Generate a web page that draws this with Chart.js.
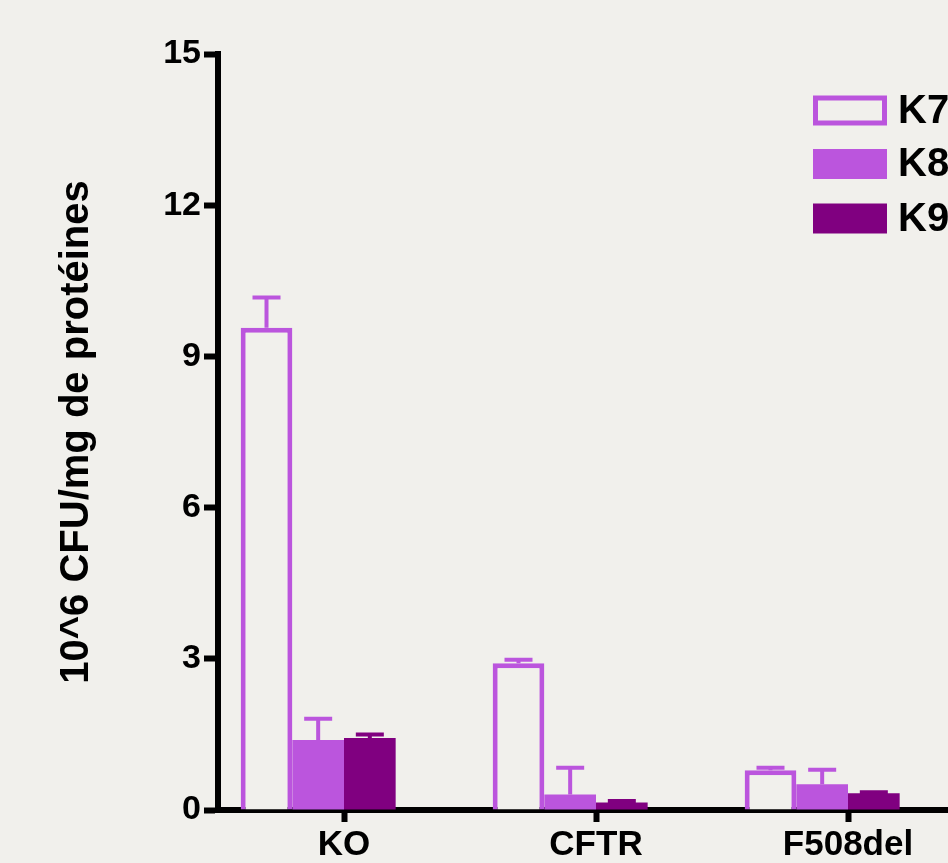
<!DOCTYPE html>
<html lang="fr">
<head>
<meta charset="utf-8">
<title>10^6 CFU/mg de protéines</title>
<script src="https://cdn.jsdelivr.net/npm/chart.js@4.4.1/dist/chart.umd.min.js"></script>
<style>
  html, body { margin: 0; padding: 0; background: #f1f0ec; overflow: hidden; }
  #wrap { width: 1000px; height: 863px; }
</style>
</head>
<body>
<div id="wrap"><canvas id="cfuChart" width="1000" height="863"></canvas></div>
<script>
// ── DATA ─────────────────────────────────────────
const categories   = ['KO', 'CFTR', 'F508del'];
const seriesLabels = ['K7', 'K8', 'K9'];

const k7Values = [9.57, 2.91, 0.79];
const k7Errors = [0.60, 0.07, 0.05];
const k8Values = [1.39, 0.31, 0.51];
const k8Errors = [0.42, 0.53, 0.29];
const k9Values = [1.43, 0.15, 0.33];
const k9Errors = [0.07, 0.03, 0.02];
// 4th (empty) column of the original layout — keeps groups offset left of the ticks
const emptyValues = [null, null, null];

const yTicks = [0, 3, 6, 9, 12, 15];

// ── STYLE ────────────────────────────────────────
const FONT   = "'Liberation Sans', Arial, Helvetica, sans-serif";
const BG     = '#f1f0ec';
const ORCHID = '#bb55dd';
const PLUM   = '#800080';

// ── ERROR BARS (upper only) ──────────────────────
const errorBars = {
  id: 'errorBars',
  afterDatasetsDraw(chart) {
    const { ctx } = chart;
    const yScale = chart.scales.y;
    chart.data.datasets.forEach((ds, i) => {
      if (!ds.errors) return;
      const meta = chart.getDatasetMeta(i);
      ctx.save();
      ctx.strokeStyle = ds.errorColor;
      ctx.lineWidth = 4;
      meta.data.forEach((bar, j) => {
        const top = yScale.getPixelForValue(ds.data[j] + ds.errors[j]);
        ctx.beginPath();
        ctx.moveTo(bar.x, bar.y);
        ctx.lineTo(bar.x, top);
        ctx.moveTo(bar.x - 14, top);
        ctx.lineTo(bar.x + 14, top);
        ctx.stroke();
      });
      ctx.restore();
    });
  }
};

// ── LEGEND (top right, partly cut by the frame) ──
const boxLegend = {
  id: 'boxLegend',
  afterDraw(chart) {
    const { ctx } = chart;
    const x = 813, w = 74, h = 30;
    const rows = [110.5, 164, 218.5];
    ctx.save();
    chart.data.datasets.slice(0, seriesLabels.length).forEach((ds, i) => {
      const top = rows[i] - h / 2;
      ctx.fillStyle = ds.borderWidth ? ds.borderColor : ds.backgroundColor;
      ctx.fillRect(x, top, w, h);
      if (ds.borderWidth) {
        ctx.fillStyle = ds.backgroundColor;
        ctx.fillRect(x + 5, top + 5, w - 10, h - 10);
      }
      ctx.fillStyle = '#000';
      ctx.font = `bold 40px ${FONT}`;
      ctx.textBaseline = 'middle';
      ctx.textAlign = 'left';
      ctx.fillText(ds.label, 898, rows[i] + 1);
    });
    ctx.restore();
  }
};

// ── CHART ────────────────────────────────────────
new Chart(document.getElementById('cfuChart'), {
  type: 'bar',
  data: {
    labels: categories,
    datasets: [
      { label: seriesLabels[0], data: k7Values, errors: k7Errors, errorColor: ORCHID,
        backgroundColor: BG, borderColor: ORCHID, borderWidth: 5 },
      { label: seriesLabels[1], data: k8Values, errors: k8Errors, errorColor: ORCHID,
        backgroundColor: ORCHID, borderWidth: 0 },
      { label: seriesLabels[2], data: k9Values, errors: k9Errors, errorColor: PLUM,
        backgroundColor: PLUM, borderWidth: 0 },
      { label: '', data: emptyValues, backgroundColor: 'rgba(0,0,0,0)', borderWidth: 0 },
    ],
  },
  options: {
    responsive: false,
    devicePixelRatio: 1,
    animation: false,
    categoryPercentage: 0.82,
    barPercentage: 1,
    layout: { padding: { top: 54, right: 26, left: 0, bottom: 0 } },
    plugins: {
      legend: { display: false },
      tooltip: { enabled: false },
    },
    scales: {
      x: {
        z: 1,
        afterFit: s => { s.height = 53; },
        border: { display: true, color: '#000', width: 6 },
        grid: { display: true, offset: false, drawOnChartArea: false, drawTicks: true,
                tickLength: 12, tickWidth: 6, tickColor: '#000' },
        ticks: { color: '#000', padding: 2, maxRotation: 0, autoSkip: false,
                 font: { family: FONT, size: 35, weight: 'bold' } },
      },
      y: {
        z: 1,
        min: 0,
        max: 15,
        afterFit: s => { s.width = 218; },
        afterBuildTicks: s => { s.ticks = yTicks.map(v => ({ value: v })); },
        border: { display: true, color: '#000', width: 6 },
        grid: { display: true, drawOnChartArea: false, drawTicks: true,
                tickLength: 14, tickWidth: 6, tickColor: '#000' },
        ticks: { color: '#000', padding: 3,
                 font: { family: FONT, size: 34, weight: 'bold' } },
        title: {
          display: true,
          text: '10^6 CFU/mg de protéines',
          color: '#000',
          font: { family: FONT, size: 40, weight: 'bold' },
          padding: { top: 53, bottom: 0 },
        },
      },
    },
  },
  plugins: [errorBars, boxLegend],
});
</script>
</body>
</html>
